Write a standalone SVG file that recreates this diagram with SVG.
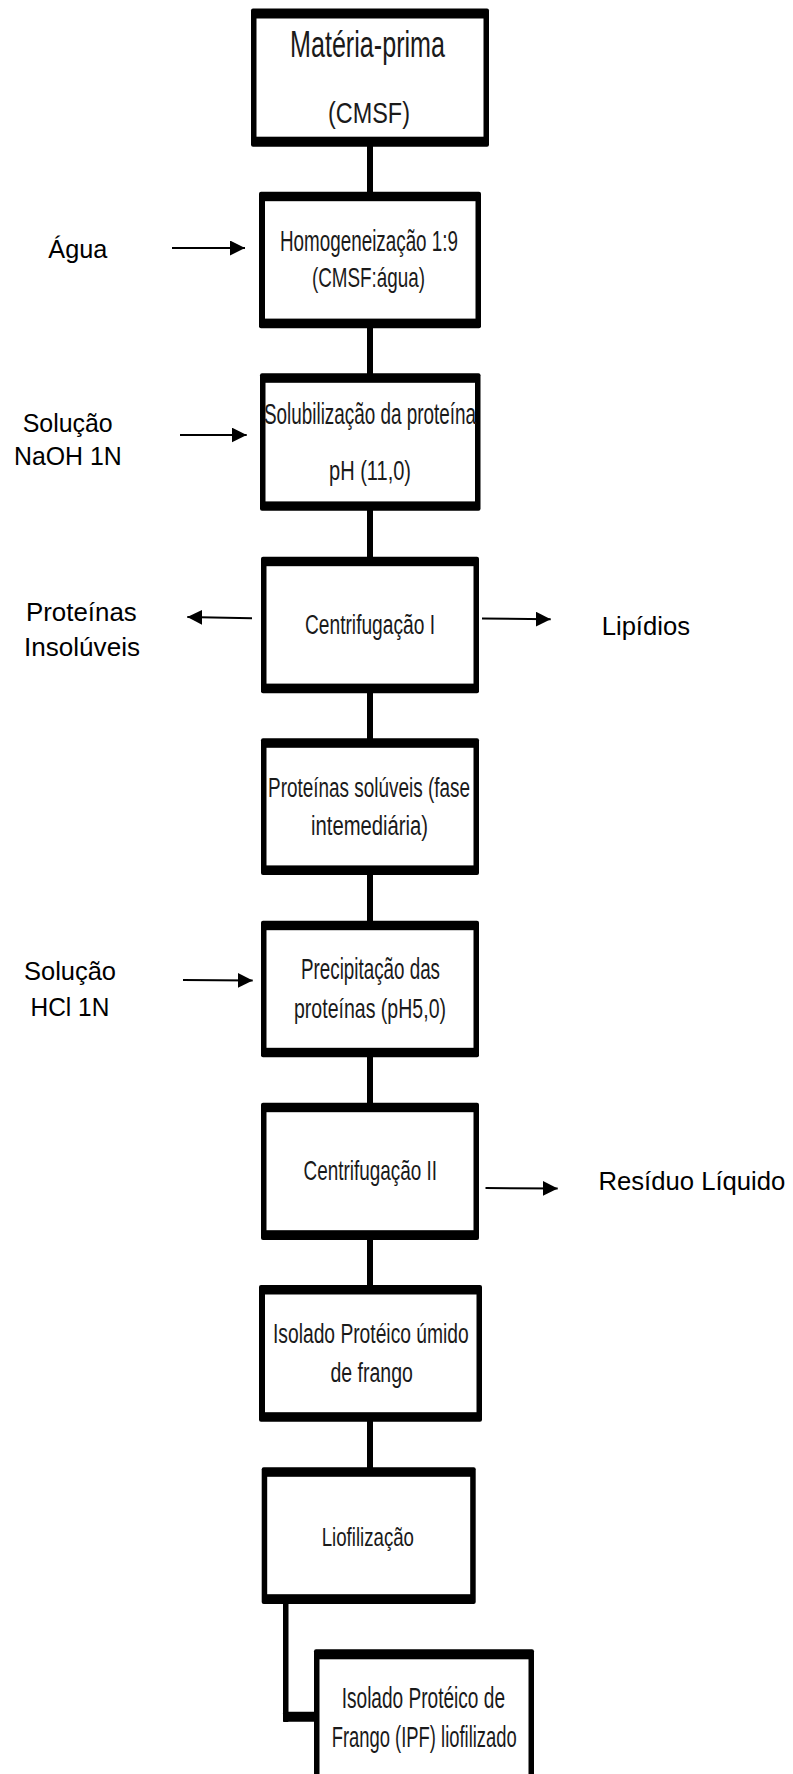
<svg xmlns="http://www.w3.org/2000/svg" width="793" height="1774" viewBox="0 0 793 1774">
<style>
.frame{fill:#000}
.inner{fill:#fff}
.bt{font-family:"Liberation Sans",Arial,sans-serif;fill:#1a1a1a}
.lbl{font-family:"Liberation Sans",Arial,sans-serif;font-size:25px;fill:#000}
.arr{stroke:#000;stroke-width:2;fill:none}
.conn{fill:#000}
</style>
<defs>
<marker id="ah" markerUnits="userSpaceOnUse" markerWidth="16" markerHeight="15" refX="15" refY="7.5" orient="auto">
<path d="M0,0 L15,7.5 L0,15 z" fill="#000"/>
</marker>
</defs>
<rect width="793" height="1774" fill="#fff"/>

<g id="connectors">
<rect class="conn" x="367" y="146" width="6" height="47"/>
<rect class="conn" x="367" y="327" width="6" height="47"/>
<rect class="conn" x="367" y="510" width="6" height="48"/>
<rect class="conn" x="367" y="692" width="6" height="47"/>
<rect class="conn" x="367" y="874" width="6" height="47"/>
<rect class="conn" x="367" y="1056" width="6" height="47"/>
<rect class="conn" x="367" y="1239" width="6" height="47"/>
<rect class="conn" x="367" y="1421" width="6" height="47"/>
<rect class="conn" x="283" y="1603" width="5.5" height="119" rx="1"/>
<rect class="conn" x="283" y="1711.7" width="33" height="10" rx="1.5"/>
<line class="arr" x1="172" y1="248" x2="245" y2="248" marker-end="url(#ah)"/>
<line class="arr" x1="180" y1="435" x2="246.7" y2="435" marker-end="url(#ah)"/>
<line class="arr" x1="252" y1="618.3" x2="187.3" y2="617" marker-end="url(#ah)"/>
<line class="arr" x1="482" y1="618.5" x2="550.7" y2="619.3" marker-end="url(#ah)"/>
<line class="arr" x1="183" y1="980" x2="252.7" y2="980.5" marker-end="url(#ah)"/>
<line class="arr" x1="485.5" y1="1188" x2="557.7" y2="1188.5" marker-end="url(#ah)"/>
</g>

<g id="n1">
<rect class="frame" x="251" y="8.5" width="238" height="138.2" rx="2"/>
<rect class="inner" x="256.5" y="18.5" width="227" height="118.2"/>
<text class="bt" x="290" y="56.7" font-size="37" textLength="155" lengthAdjust="spacingAndGlyphs">Matéria-prima</text>
<text class="bt" x="328" y="123" font-size="30" textLength="82" lengthAdjust="spacingAndGlyphs">(CMSF)</text>
</g>

<g id="n2">
<rect class="frame" x="259" y="191.7" width="222" height="136.6" rx="2"/>
<rect class="inner" x="265" y="201.2" width="210.5" height="117.4"/>
<text class="bt" x="280" y="250.7" font-size="29" textLength="178" lengthAdjust="spacingAndGlyphs">Homogeneização 1:9</text>
<text class="bt" x="312" y="287" font-size="28" textLength="113" lengthAdjust="spacingAndGlyphs">(CMSF:água)</text>
</g>

<g id="n3">
<rect class="frame" x="260" y="373.3" width="220.5" height="137.4" rx="2"/>
<rect class="inner" x="265.5" y="382.8" width="209.5" height="118.6"/>
<text class="bt" x="264" y="424" font-size="29" textLength="212" lengthAdjust="spacingAndGlyphs">Solubilização da proteína</text>
<text class="bt" x="329" y="479.5" font-size="27" textLength="82" lengthAdjust="spacingAndGlyphs">pH (11,0)</text>
</g>

<g id="n4">
<rect class="frame" x="261" y="556.7" width="218" height="136.6" rx="2"/>
<rect class="inner" x="266.5" y="566.2" width="207" height="117.4"/>
<text class="bt" x="305" y="634.3" font-size="27" textLength="130" lengthAdjust="spacingAndGlyphs">Centrifugação I</text>
</g>

<g id="n5">
<rect class="frame" x="261" y="738.3" width="218" height="136.7" rx="2"/>
<rect class="inner" x="266.5" y="747.8" width="207" height="117.6"/>
<text class="bt" x="268" y="797.3" font-size="27" textLength="202" lengthAdjust="spacingAndGlyphs">Proteínas solúveis (fase</text>
<text class="bt" x="311" y="835" font-size="27" textLength="117" lengthAdjust="spacingAndGlyphs">intemediária)</text>
</g>

<g id="n6">
<rect class="frame" x="261" y="920.7" width="218" height="136.6" rx="2"/>
<rect class="inner" x="266.5" y="930.2" width="207" height="117.6"/>
<text class="bt" x="301" y="979.3" font-size="29" textLength="139" lengthAdjust="spacingAndGlyphs">Precipitação das</text>
<text class="bt" x="294" y="1018.3" font-size="28" textLength="152" lengthAdjust="spacingAndGlyphs">proteínas (pH5,0)</text>
</g>

<g id="n7">
<rect class="frame" x="261" y="1102.7" width="218" height="137.3" rx="2"/>
<rect class="inner" x="266.5" y="1112.2" width="207" height="118"/>
<text class="bt" x="303.5" y="1180" font-size="28" textLength="133.5" lengthAdjust="spacingAndGlyphs">Centrifugação II</text>
</g>

<g id="n8">
<rect class="frame" x="259" y="1285" width="223" height="136.7" rx="2"/>
<rect class="inner" x="265" y="1294.5" width="211.5" height="117.7"/>
<text class="bt" x="273" y="1343.3" font-size="27" textLength="195.7" lengthAdjust="spacingAndGlyphs">Isolado Protéico úmido</text>
<text class="bt" x="330.5" y="1381.7" font-size="27" textLength="82.3" lengthAdjust="spacingAndGlyphs">de frango</text>
</g>

<g id="n9">
<rect class="frame" x="261.7" y="1467.3" width="214" height="136.7" rx="2"/>
<rect class="inner" x="267.2" y="1476.8" width="203" height="117.4"/>
<text class="bt" x="321.7" y="1546" font-size="26" textLength="92.3" lengthAdjust="spacingAndGlyphs">Liofilização</text>
</g>

<g id="n10">
<rect class="frame" x="314" y="1649.3" width="220" height="200" rx="2"/>
<rect class="inner" x="319.5" y="1659.3" width="209" height="180"/>
<text class="bt" x="341.7" y="1708.3" font-size="30" textLength="163.3" lengthAdjust="spacingAndGlyphs">Isolado Protéico de</text>
<text class="bt" x="331.7" y="1746.7" font-size="30" textLength="185" lengthAdjust="spacingAndGlyphs">Frango (IPF) liofilizado</text>
</g>

<g id="labels">
<text class="lbl" x="48.3" y="258.3" textLength="59" lengthAdjust="spacingAndGlyphs">Água</text>
<text class="lbl" x="22.7" y="432.3" textLength="90" lengthAdjust="spacingAndGlyphs">Solução</text>
<text class="lbl" x="14" y="465" textLength="107.7" lengthAdjust="spacingAndGlyphs">NaOH 1N</text>
<text class="lbl" x="26" y="621" textLength="110.7" lengthAdjust="spacingAndGlyphs">Proteínas</text>
<text class="lbl" x="24" y="656" textLength="116" lengthAdjust="spacingAndGlyphs">Insolúveis</text>
<text class="lbl" x="601.7" y="635" textLength="88.3" lengthAdjust="spacingAndGlyphs">Lipídios</text>
<text class="lbl" x="24" y="980" textLength="92" lengthAdjust="spacingAndGlyphs">Solução</text>
<text class="lbl" x="30.5" y="1016" textLength="78.8" lengthAdjust="spacingAndGlyphs">HCl 1N</text>
<text class="lbl" x="598.4" y="1190" textLength="187" lengthAdjust="spacingAndGlyphs">Resíduo Líquido</text>
</g>
</svg>
